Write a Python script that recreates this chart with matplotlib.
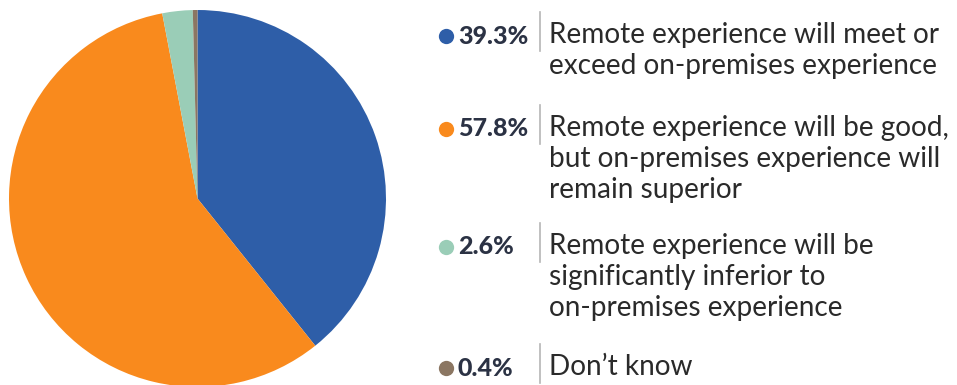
import matplotlib.pyplot as plt
from matplotlib.lines import Line2D

labels = [
    "Remote experience will meet or\nexceed on-premises experience",
    "Remote experience will be good,\nbut on-premises experience will\nremain superior",
    "Remote experience will be\nsignificantly inferior to\non-premises experience",
    "Don\u2019t know",
]
shares = [39.3, 57.8, 2.6, 0.4]
colors = ["#2e5ea8", "#f98a1d", "#9acdb7", "#8b7662"]
pct_labels = ["39.3%", "57.8%", "2.6%", "0.4%"]

W, H = 957, 385
fig = plt.figure(figsize=(W / 100, H / 100), dpi=100)

# pie on the left
ax = fig.add_axes([9 / W, 1 - 387 / H, 377 / W, 377 / H])
ax.pie(shares, colors=colors, startangle=90, counterclock=False,
       wedgeprops=dict(linewidth=0))
ax.set_xlim(-1, 1)
ax.set_ylim(-1, 1)
ax.set_aspect("equal")
ax.axis("off")

# legend block drawn in figure pixels
def fx(x):
    return x / W

def fy(y):
    return 1 - y / H

tops = [35, 128, 246, 367]
line_gap = 31
for top, lab, pct, c in zip(tops, labels, pct_labels, colors):
    fig.add_artist(Line2D([fx(446)], [fy(top + 1)], marker="o", markersize=11,
                          color=c, markeredgewidth=0, transform=fig.transFigure))
    fig.text(fx(458), fy(top + 1), pct, fontsize=18, fontweight="black",
             color="#2b3244", va="center", ha="left", family="Lato")
    fig.add_artist(Line2D([fx(540), fx(540)], [fy(top - 23), fy(top + 16)],
                          color="#b5b5b5", linewidth=1.2, transform=fig.transFigure))
    for i, line in enumerate(lab.split("\n")):
        fig.text(fx(549), fy(top + i * line_gap), line, fontsize=20.2,
                 color="#2a2a2a", va="center", ha="left", family="Lato")

fig.savefig("out.png", dpi=100)
